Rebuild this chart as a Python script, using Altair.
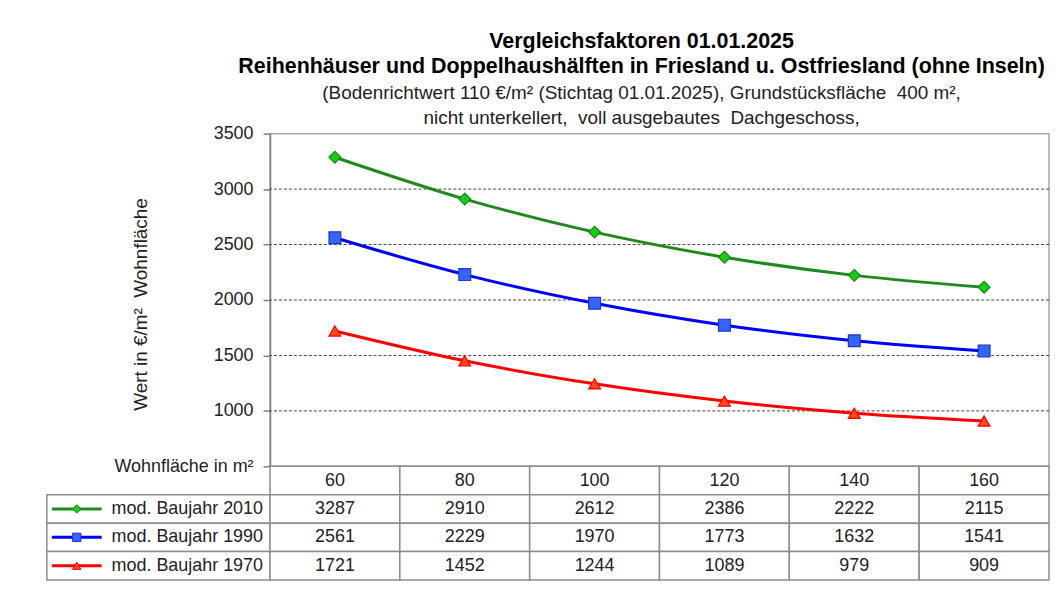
import altair as alt
import pandas as pd

SIZES = [60, 80, 100, 120, 140, 160]
SERIES = ["mod. Baujahr 2010", "mod. Baujahr 1990", "mod. Baujahr 1970"]
V2010 = [3287, 2910, 2612, 2386, 2222, 2115]
V1990 = [2561, 2229, 1970, 1773, 1632, 1541]
V1970 = [1721, 1452, 1244, 1089, 979, 909]
GRID_VALUES = [1000, 1500, 2000, 2500, 3000]
Y_TICKS = [500, 1000, 1500, 2000, 2500, 3000, 3500]
HEADER_KEY = "Wohnfläche in m²"

LINE_COLORS = ["#1f8a1f", "#0000ff", "#ff0000"]
FILL_COLORS = ["#19cc19", "#3366ff", "#ff4a1a"]
EDGE_COLORS = ["#118811", "#2233cc", "#ff0000"]
SHAPES = ["diamond", "square", "triangle-up"]

NB = "\u00a0"
TITLE = ["Vergleichsfaktoren 01.01.2025",
         "Reihenhäuser und Doppelhaushälften in Friesland u. Ostfriesland (ohne Inseln)"]
SUBTITLE = ["(Bodenrichtwert 110 €/m² (Stichtag 01.01.2025), Grundstücksfläche" + NB + " 400 m²,",
            "nicht unterkellert," + NB + " voll ausgebautes" + NB + " Dachgeschoss,"]
Y_TITLE = "Wert in €/m²" + NB + NB + "Wohnfläche"

SANS = "Liberation Sans, Arial, sans-serif"
GRAY = "#8c8c8c"

rows = []
for s, vals in zip(SERIES, [V2010, V1990, V1970]):
    for x, v in zip(SIZES, vals):
        rows.append({"series": s, "size": x, "value": v})
df = pd.DataFrame(rows)

ROW_KEYS = [HEADER_KEY] + SERIES
tbl_rows = []
for i, x in enumerate(SIZES):
    tbl_rows.append({"row": HEADER_KEY, "size": x, "text": str(x)})
    for s, vals in zip(SERIES, [V2010, V1990, V1970]):
        tbl_rows.append({"row": s, "size": x, "text": str(vals[i])})
tbl = pd.DataFrame(tbl_rows)

leg = pd.DataFrame({"row": SERIES, "series": SERIES})

PW, PH = 782, 334
LW = 224
TH = 114

yscale = alt.Scale(domain=[500, 3500], nice=False, zero=False)
xscale = alt.Scale(type="point", domain=SIZES, padding=0.5)
rowscale = alt.Scale(domain=ROW_KEYS, paddingInner=0, paddingOuter=0)

yaxis = alt.Axis(values=Y_TICKS, format="d",
                 labelExpr="datum.value == 500 ? 'Wohnfläche in m²' : datum.label",
                 title=Y_TITLE, grid=False,
                 domainColor="#7f7f7f", domainWidth=1.5,
                 tickColor="#7f7f7f", tickSize=7, tickWidth=1.5,
                 labelPadding=10, labelFontSize=18, labelFont=SANS,
                 labelColor="#222222",
                 titleFont=SANS, titleFontSize=19, titleFontWeight="normal",
                 titleColor="#222222", titleAngle=-90, titleX=-130,
                 titleY=PH / 2 + 4, titleAlign="center", titleBaseline="middle")

base = alt.Chart(df)

grid = alt.Chart(pd.DataFrame({"g": GRID_VALUES})).mark_rule(
    color="#444444", strokeDash=[3, 2], strokeWidth=1
).encode(y=alt.Y("g:Q", scale=yscale, axis=yaxis))

lines = base.mark_line(strokeWidth=3, interpolate="monotone").encode(
    x=alt.X("size:O", scale=xscale, axis=None),
    y=alt.Y("value:Q", scale=yscale),
    color=alt.Color("series:N", scale=alt.Scale(domain=SERIES, range=LINE_COLORS), legend=None),
)

points = base.mark_point(filled=True, size=140, strokeWidth=1.2, opacity=1).encode(
    x=alt.X("size:O", scale=xscale, axis=None),
    y=alt.Y("value:Q", scale=yscale),
    fill=alt.Fill("series:N", scale=alt.Scale(domain=SERIES, range=FILL_COLORS), legend=None),
    stroke=alt.Stroke("series:N", scale=alt.Scale(domain=SERIES, range=EDGE_COLORS), legend=None),
    shape=alt.Shape("series:N", scale=alt.Scale(domain=SERIES, range=SHAPES), legend=None),
)

plot = alt.layer(grid, lines, points).properties(
    width=PW, height=PH,
    view=alt.ViewBackground(stroke="#a6a6a6", strokeWidth=1.5),
    title=alt.TitleParams(
        text=TITLE, subtitle=SUBTITLE,
        font=SANS, fontSize=21.5, fontWeight="bold", color="#000000",
        subtitleFont=SANS, subtitleFontSize=19, subtitleColor="#222222",
        lineHeight=25, subtitleLineHeight=25, subtitlePadding=6,
        anchor="middle", frame="group", offset=-3, dx=-18,
    ),
)

spacer = alt.Chart(pd.DataFrame({"v": [0]})).mark_point(opacity=0).properties(
    width=LW, height=PH, view=alt.ViewBackground(stroke="transparent"))

# legend column of the data table
leg_base = alt.Chart(leg)
leg_y = alt.Y("row:N", scale=rowscale, axis=None)
leg_rect = leg_base.mark_rect(fill="white", stroke=GRAY, strokeWidth=1.5).encode(y=leg_y)
leg_rule = leg_base.mark_rule(strokeWidth=3).encode(
    x=alt.value(5), x2=alt.value(55), y=leg_y,
    color=alt.Color("series:N", scale=alt.Scale(domain=SERIES, range=LINE_COLORS), legend=None))
leg_pt = leg_base.mark_point(filled=True, size=70, strokeWidth=1, opacity=1).encode(
    x=alt.value(30), y=leg_y,
    fill=alt.Fill("series:N", scale=alt.Scale(domain=SERIES, range=FILL_COLORS), legend=None),
    stroke=alt.Stroke("series:N", scale=alt.Scale(domain=SERIES, range=EDGE_COLORS), legend=None),
    shape=alt.Shape("series:N", scale=alt.Scale(domain=SERIES, range=SHAPES), legend=None))
leg_txt = leg_base.mark_text(align="right", baseline="middle", fontSize=18, font=SANS,
                             color="#222222").encode(x=alt.value(LW - 7), y=leg_y, text="series:N")
legend_tbl = alt.layer(leg_rect, leg_rule, leg_pt, leg_txt).properties(
    width=LW, height=TH, view=alt.ViewBackground(stroke="transparent"))

# values part of the data table
tx = alt.X("size:O", scale=alt.Scale(type="band", domain=SIZES, paddingInner=0, paddingOuter=0), axis=None)
ty = alt.Y("row:N", scale=rowscale, axis=None)
cells = alt.Chart(tbl).mark_rect(fill="white", stroke=GRAY, strokeWidth=1.5).encode(x=tx, y=ty)
texts = alt.Chart(tbl).mark_text(baseline="middle", fontSize=18, font=SANS, color="#222222").encode(
    x=tx, y=ty, text="text:N")
value_tbl = alt.layer(cells, texts).properties(
    width=PW, height=TH, view=alt.ViewBackground(stroke="transparent"))

chart = alt.concat(spacer, plot, legend_tbl, value_tbl, columns=2).properties(
    spacing=0, bounds="flush",
    padding={"left": 37, "top": 21, "right": 0, "bottom": 4},
).configure_view(stroke="transparent").configure(background="white")

chart.save("out.html", embed_options={"renderer": "svg", "actions": False})
